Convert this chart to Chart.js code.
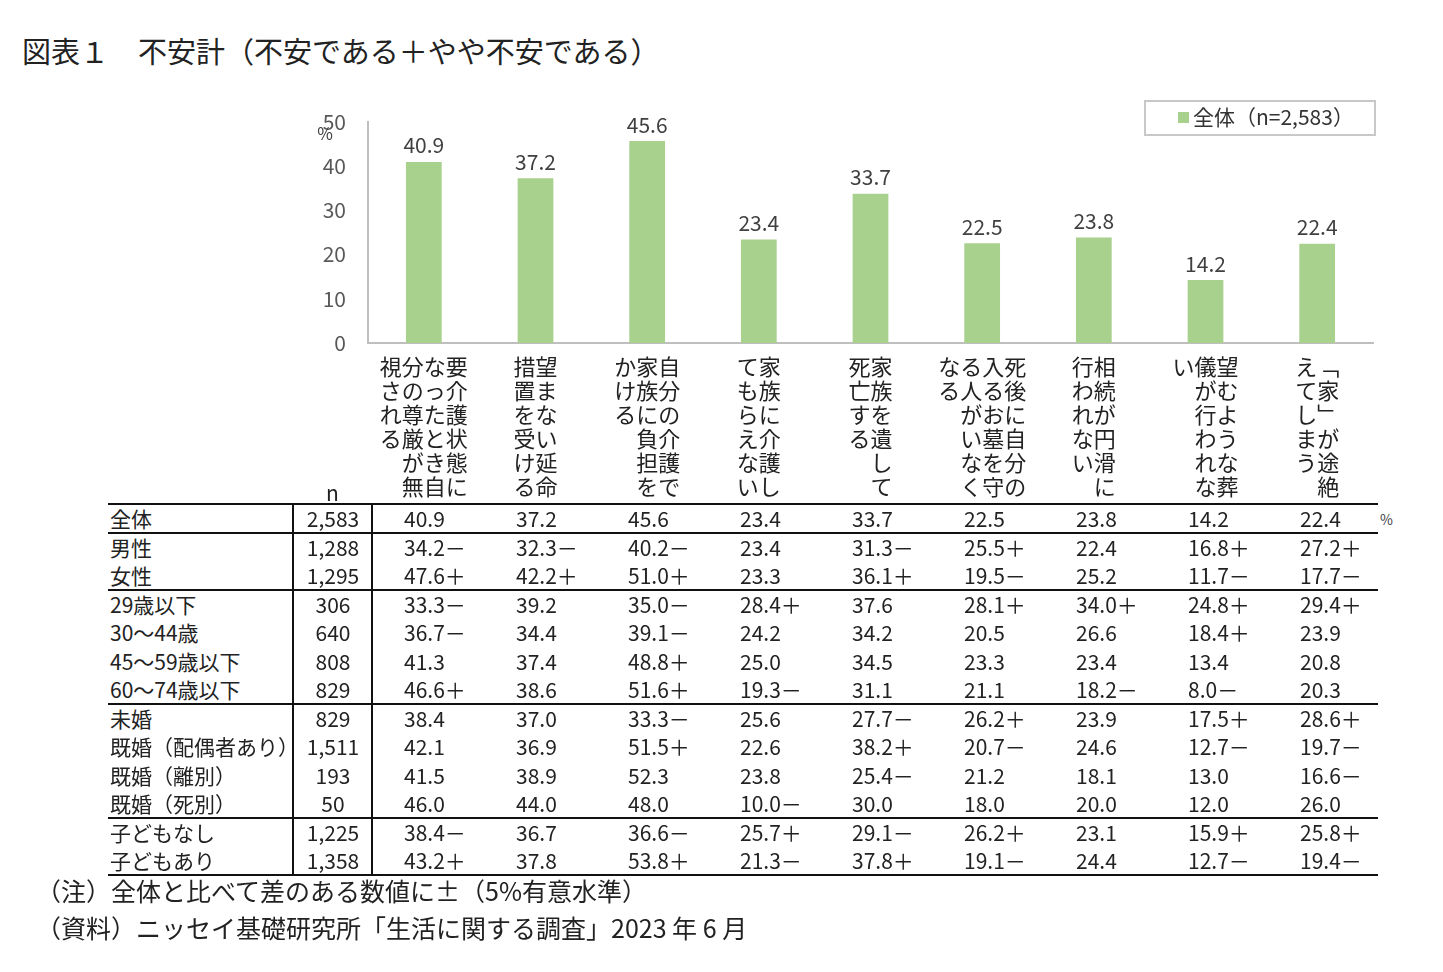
<!DOCTYPE html>
<html><head><meta charset="utf-8">
<script src="https://cdn.jsdelivr.net/npm/chart.js@4.4.0/dist/chart.umd.min.js"></script>
<style>
body{margin:0;background:#fff;font-family:"Noto Sans CJK JP",sans-serif;color:#222;}
#wrap{position:relative;width:1443px;height:972px;overflow:hidden;}
.t{position:absolute;white-space:nowrap;line-height:1;}
.hl{position:absolute;height:0;border-top:2px solid #111;}
.vl{position:absolute;width:0;border-left:2px solid #111;}
</style></head><body>
<div id="wrap">
<div class="t" style="left:22px;top:36px;font-size:29px;">図表１　不安計（不安である＋やや不安である）</div>
<div style="position:absolute;left:300px;top:95px;width:1080px;height:405px;"><canvas id="c"></canvas></div>
<div style="position:absolute;left:1144px;top:100px;width:228px;height:32px;border:2px solid #c8c8c8;"></div>
<div class="t" style="left:1178px;top:106px;font-size:21px;color:#333;"><span style="display:inline-block;width:11px;height:11px;background:#a9d18e;margin-right:4px;vertical-align:2px;"></span>全体（n=2,583）</div>
<div id="tbl"></div>
<div class="t" style="left:36px;top:878px;font-size:25px;">（注）全体と比べて差のある数値に±（5%有意水準）</div>
<div class="t" style="left:36px;top:915px;font-size:25px;">（資料）ニッセイ基礎研究所「生活に関する調査」2023 年 6 月</div>
</div>
<script>
// 項目（縦書きの列、左から右）
const categoryColumns = [
  ['視される', '分の尊厳が無', 'なったとき自', '要介護状態に'],
  ['措置を受ける', '望まない延命'],
  ['かける', '家族に負担を', '自分の介護で'],
  ['てもらえない', '家族に介護し'],
  ['死亡する', '家族を遺して'],
  ['なる', 'る人がいなく', '入るお墓を守', '死後に自分の'],
  ['行われない', '相続が円滑に'],
  ['い', '儀が行われな', '望むような葬'],
  ['えてしまう', '﹁家﹂が途絶']
];
const allValues = [40.9, 37.2, 45.6, 23.4, 33.7, 22.5, 23.8, 14.2, 22.4];
const yTicks = [0, 10, 20, 30, 40, 50];

const rowLabels = ['全体', '男性', '女性', '29歳以下', '30～44歳', '45～59歳以下', '60～74歳以下', '未婚', '既婚（配偶者あり）', '既婚（離別）', '既婚（死別）', '子どもなし', '子どもあり'];
const rowN = ['2,583', '1,288', '1,295', '306', '640', '808', '829', '829', '1,511', '193', '50', '1,225', '1,358'];
const tableRows = [
  ['40.9', '37.2', '45.6', '23.4', '33.7', '22.5', '23.8', '14.2', '22.4'],
  ['34.2－', '32.3－', '40.2－', '23.4', '31.3－', '25.5＋', '22.4', '16.8＋', '27.2＋'],
  ['47.6＋', '42.2＋', '51.0＋', '23.3', '36.1＋', '19.5－', '25.2', '11.7－', '17.7－'],
  ['33.3－', '39.2', '35.0－', '28.4＋', '37.6', '28.1＋', '34.0＋', '24.8＋', '29.4＋'],
  ['36.7－', '34.4', '39.1－', '24.2', '34.2', '20.5', '26.6', '18.4＋', '23.9'],
  ['41.3', '37.4', '48.8＋', '25.0', '34.5', '23.3', '23.4', '13.4', '20.8'],
  ['46.6＋', '38.6', '51.6＋', '19.3－', '31.1', '21.1', '18.2－', '8.0－', '20.3'],
  ['38.4', '37.0', '33.3－', '25.6', '27.7－', '26.2＋', '23.9', '17.5＋', '28.6＋'],
  ['42.1', '36.9', '51.5＋', '22.6', '38.2＋', '20.7－', '24.6', '12.7－', '19.7－'],
  ['41.5', '38.9', '52.3', '23.8', '25.4－', '21.2', '18.1', '13.0', '16.6－'],
  ['46.0', '44.0', '48.0', '10.0－', '30.0', '18.0', '20.0', '12.0', '26.0'],
  ['38.4－', '36.7', '36.6－', '25.7＋', '29.1－', '26.2＋', '23.1', '15.9＋', '25.8＋'],
  ['43.2＋', '37.8', '53.8＋', '21.3－', '37.8＋', '19.1－', '24.4', '12.7－', '19.4－']
];
const groupBreaks = [1, 3, 7, 11]; // 区切り線の位置（行）

// 縦書きを行ごとの文字列に組み替える（左の列から順に）
function toRows(cols) {
  const h = Math.max(...cols.map(c => c.length));
  const rows = [];
  for (let i = 0; i < h; i++) {
    rows.push(cols.map(c => c[i] || '　').join(''));
  }
  return rows;
}
const labels = categoryColumns.map(toRows);

const topLabels = {
  id: 'topLabels',
  afterDatasetsDraw(chart) {
    const ctx = chart.ctx;
    const meta = chart.getDatasetMeta(0);
    ctx.save();
    ctx.font = '21px "Noto Sans CJK JP"';
    ctx.fillStyle = '#404040';
    ctx.textAlign = 'center';
    ctx.textBaseline = 'bottom';
    meta.data.forEach((bar, i) => {
      ctx.fillText(allValues[i].toFixed(1), bar.x, bar.y - 6);
    });
    // 単位
    ctx.textBaseline = 'middle';
    ctx.font = '17px "Noto Sans CJK JP"';
    ctx.fillText('%', 25, 39);
    ctx.restore();
  }
};

new Chart(document.getElementById('c'), {
  type: 'bar',
  data: {
    labels: labels,
    datasets: [{
      data: allValues,
      backgroundColor: '#a9d18e',
      barPercentage: 0.32,
      categoryPercentage: 1
    }]
  },
  options: {
    responsive: true,
    maintainAspectRatio: false,
    animation: false,
    layout: { padding: { top: 7, right: 7 } },
    plugins: { legend: { display: false }, tooltip: { enabled: false } },
    scales: {
      x: {
        grid: { display: false },
        border: { color: '#bfbfbf', width: 2 },
        ticks: {
          maxRotation: 0, autoSkip: false, padding: 4, color: '#222',
          font: { size: 22, family: '"Noto Sans CJK JP"', lineHeight: 1.09 }
        },
        afterFit(s) { s.height = 157; }
      },
      y: {
        min: 0, max: 50,
        grid: { display: false },
        border: { color: '#bfbfbf', width: 2 },
        afterBuildTicks(s) { s.ticks = yTicks.map(v => ({ value: v })); },
        ticks: { color: '#595959', padding: 14, font: { size: 21, family: '"Noto Sans CJK JP"' } },
        afterFit(s) { s.width = 68; }
      }
    }
  },
  plugins: [topLabels]
});

// 表
const tbl = document.getElementById('tbl');
function add(html) { tbl.insertAdjacentHTML('beforeend', html); }
const rowTop = 504, rowH = 28.5;
add('<div class="t" style="left:326px;top:482px;font-size:21px;">n</div>');
add('<div class="t" style="left:1380px;top:512px;font-size:14px;color:#444;">%</div>');
rowLabels.forEach((lab, r) => {
  const y = rowTop + r * rowH + 4;
  add('<div class="t" style="left:110px;top:' + y + 'px;font-size:21px;">' + lab + '</div>');
  add('<div class="t" style="left:293px;width:80px;text-align:center;top:' + y + 'px;font-size:21px;">' + rowN[r] + '</div>');
  tableRows[r].forEach((v, c) => {
    const left = 422 + c * 112 - 18;
    add('<div class="t" style="left:' + left + 'px;top:' + y + 'px;font-size:21px;">' + v + '</div>');
  });
});
[0].concat(groupBreaks, [rowLabels.length]).forEach(r => {
  add('<div class="hl" style="left:108px;width:1270px;top:' + (rowTop + r * rowH - 1) + 'px;"></div>');
});
const tblH = rowLabels.length * rowH;
add('<div class="vl" style="left:292px;top:' + rowTop + 'px;height:' + tblH + 'px;"></div>');
add('<div class="vl" style="left:371px;top:' + rowTop + 'px;height:' + tblH + 'px;"></div>');
</script>
</body></html>
